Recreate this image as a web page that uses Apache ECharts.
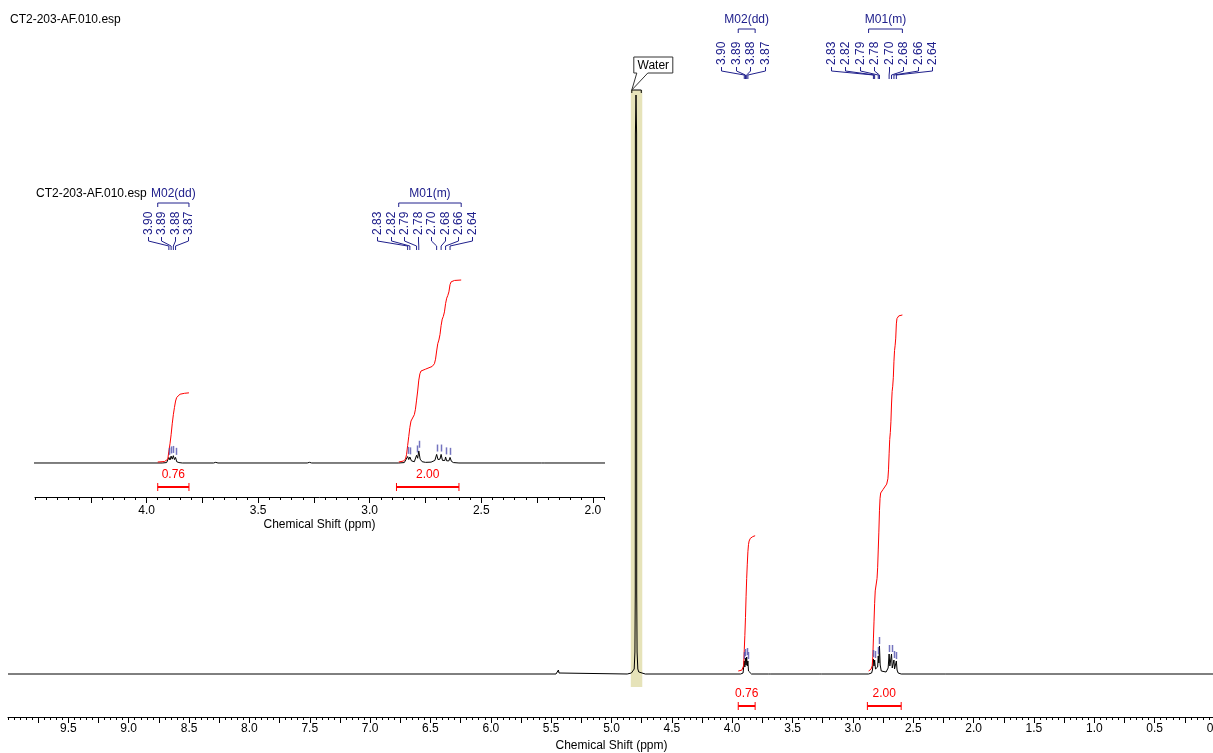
<!DOCTYPE html>
<html><head><meta charset="utf-8">
<script src="https://cdn.jsdelivr.net/npm/echarts@6.0.0/dist/echarts.min.js"></script>
<style>html,body{margin:0;padding:0;background:#fff}#c{width:1213px;height:753px}</style>
</head><body><div id="c"></div>
<script>
// ---------------- data ----------------
const TITLE = 'CT2-203-AF.010.esp';
const AXIS_NAME = 'Chemical Shift (ppm)';
const MAIN_TICK_LABELS = [0.0,0.5,1.0,1.5,2.0,2.5,3.0,3.5,4.0,4.5,5.0,5.5,6.0,6.5,7.0,7.5,8.0,8.5,9.0,9.5];
const INSET_TICK_LABELS = [2.0,2.5,3.0,3.5,4.0];
const MAIN_RANGE = [0, 10];
const INSET_RANGE = [1.95, 4.5];

// spectrum: [ppm, intensity]
const SPECTRUM = [
  [10.0,0],[5.46,0],[5.445,1],[5.44,4],[5.435,1],[5.42,0],
  [4.87,0],[4.835,1],[4.82,2],[4.812,5],[4.806,22],[4.803,80],[4.802,540],[4.797,579],[4.792,540],[4.791,80],[4.788,22],[4.782,5],[4.774,2],[4.76,1],[4.72,0],
  [3.93,0],[3.91,1],[3.905,3],[3.90,13],[3.895,7],[3.89,16],[3.885,9],[3.88,17],[3.875,8],[3.87,13],[3.865,3],[3.855,1],[3.84,0],
  [3.70,0],[3.69,1.5],[3.68,0],
  [3.28,0],[3.27,1.5],[3.26,0],
  [2.87,0],[2.845,1],[2.838,4],[2.83,15],[2.825,8],[2.82,14],[2.813,5],[2.80,3],[2.795,7],[2.79,18],[2.785,11],[2.78,28],[2.774,9],[2.765,3],[2.75,1.5],[2.725,2],[2.708,6],[2.70,20],[2.694,8],[2.69,6],[2.685,9],[2.68,20],[2.674,6],[2.668,4],[2.663,6],[2.66,14],[2.655,5],[2.65,4],[2.645,5],[2.64,13],[2.634,4],[2.625,1],[2.60,0],
  [2.23,0],[2.222,2],[2.215,0],
  [0.0,0]
];

// water
const WATER_LABEL = 'Water';
const WATER_RANGE = [4.84, 4.745];
const WATER_HEIGHT = 579;

// multiplets
const MULT_NAMES = ['M02(dd)', 'M01(m)'];
const MULT_RANGES = [[3.95, 3.81], [2.87, 2.59]];
const MULT_PEAKS = [[3.90,3.89,3.88,3.87],[2.83,2.82,2.79,2.78,2.70,2.68,2.66,2.64]];
const PEAK_HEIGHTS = [[13,16,17,13],[15,14,18,28,20,20,14,13]];

// integrals
const INTEGRAL_VALUES = [0.76, 2.00];
const INTEGRAL_RANGES = [[3.95, 3.81], [2.88, 2.60]];
const INTEGRAL_M02 = [[3.95,0],[3.92,0.005],[3.905,0.03],[3.90,0.12],[3.895,0.2],[3.89,0.3],[3.885,0.42],[3.88,0.52],[3.875,0.6],[3.87,0.67],[3.865,0.71],[3.86,0.73],[3.85,0.745],[3.83,0.755],[3.81,0.76]];
const INTEGRAL_M01 = [[2.87,0],[2.85,0.01],[2.84,0.03],[2.835,0.08],[2.83,0.18],[2.825,0.28],[2.82,0.38],[2.815,0.45],[2.80,0.52],[2.795,0.58],[2.79,0.68],[2.785,0.78],[2.78,0.9],[2.775,0.97],[2.77,1.0],[2.75,1.02],[2.72,1.05],[2.71,1.08],[2.705,1.13],[2.70,1.22],[2.695,1.3],[2.69,1.34],[2.685,1.4],[2.68,1.5],[2.675,1.57],[2.67,1.6],[2.665,1.65],[2.66,1.74],[2.655,1.8],[2.65,1.83],[2.645,1.87],[2.64,1.95],[2.635,1.98],[2.62,1.995],[2.59,2.0]];

// ---------------- style ----------------
const FS = 12;
const FONT = FS + 'px "Liberation Sans", Arial, sans-serif';
const NAVY = '#20208c';
const MARK = 'rgba(70,70,170,0.75)';
const RED = '#ff0000';

const MAIN_ANN = {nameY:20, bracketY:29, tick:4, labelBottom:67, stubY:71, joinY:75, tipY:79, spacing:14.5, shift:-3};
const INSET_ANN = {nameY:194, bracketY:203, tick:4, labelBottom:237, stubY:241, joinY:246, tipY:250, spacing:13.5, shift:-4};
const MAIN_INT = {labelY:694, barY:706};
const INSET_INT = {labelY:475, barY:487};

const majorTicks = labels => labels.flatMap(v => [v, v + 0.25]);

function annRender(cfg){
  return function(params, api){
    const i = params.dataIndex;
    const r = MULT_RANGES[i];
    const x0 = api.coord([r[0], 0])[0], x1 = api.coord([r[1], 0])[0];
    const ch = [];
    ch.push({type:'text', x:(x0+x1)/2, y:cfg.nameY, style:{text:MULT_NAMES[i], align:'center', verticalAlign:'middle', font:FONT, fill:NAVY}});
    ch.push({type:'polyline', shape:{points:[[x0,cfg.bracketY+cfg.tick],[x0,cfg.bracketY],[x1,cfg.bracketY],[x1,cfg.bracketY+cfg.tick]]}, style:{stroke:NAVY, lineWidth:1, fill:null}});
    const peaks = MULT_PEAKS[i];
    const px = peaks.map(p => api.coord([p, 0])[0]);
    const mean = px.reduce((a,b)=>a+b,0)/px.length + cfg.shift;
    peaks.forEach((p,k) => {
      const lx = Math.round(mean + (k-(peaks.length-1)/2)*cfg.spacing) + 0.5;
      ch.push({type:'text', x:lx, y:cfg.labelBottom - 2, rotation:Math.PI/2, style:{text:p.toFixed(2), align:'left', verticalAlign:'middle', font:FONT, fill:NAVY}});
      ch.push({type:'polyline', shape:{points:[[lx,cfg.labelBottom],[lx,cfg.stubY],[px[k],cfg.joinY],[px[k],cfg.tipY]]}, style:{stroke:NAVY, lineWidth:1, fill:null}});
    });
    return {type:'group', children:ch};
  };
}

function intRender(cfg){
  return function(params, api){
    const i = params.dataIndex;
    const r = INTEGRAL_RANGES[i];
    const x0 = api.coord([r[0], 0])[0], x1 = api.coord([r[1], 0])[0];
    return {type:'group', children:[
      {type:'text', x:(x0+x1)/2, y:cfg.labelY, style:{text:INTEGRAL_VALUES[i].toFixed(2), align:'center', verticalAlign:'middle', font:FONT, fill:RED}},
      {type:'line', shape:{x1:x0, y1:cfg.barY, x2:x1, y2:cfg.barY}, style:{stroke:RED, lineWidth:2}},
      {type:'line', shape:{x1:x0, y1:cfg.barY-4, x2:x0, y2:cfg.barY+4}, style:{stroke:RED, lineWidth:1}},
      {type:'line', shape:{x1:x1, y1:cfg.barY-4, x2:x1, y2:cfg.barY+4}, style:{stroke:RED, lineWidth:1}}
    ]};
  };
}

function markRender(params, api){
  const p = api.coord([api.value(0), api.value(1)]);
  const x = Math.round(p[0]) + 0.5;
  return {type:'line', shape:{x1:x, y1:p[1]-2, x2:x, y2:p[1]-9}, style:{stroke:MARK, lineWidth:1.5}};
}

function waterRender(params, api){
  const a = api.coord([WATER_RANGE[0], WATER_HEIGHT]);
  const b = api.coord([WATER_RANGE[1], 0]);
  const top = a[1] - 5, bottom = b[1] + 13;
  const bx = a[0] + 3, by = top - 33, bw = 39, bh = 16;
  return {type:'group', children:[
    {type:'rect', shape:{x:a[0], y:top, width:b[0]-a[0], height:bottom-top}, style:{fill:'#e6e3b9'}},
    {type:'polyline', shape:{points:[[a[0]+1,top+3],[a[0]+1,top],[b[0]-1,top],[b[0]-1,top+3]]}, style:{stroke:'#000', lineWidth:1, fill:null}},
    {type:'polygon', shape:{points:[[bx,by],[bx+bw,by],[bx+bw,by+bh],[bx+14,by+bh],[a[0]+1,top],[bx+3,by+bh],[bx,by+bh]]}, style:{fill:'#fff', stroke:'#333', lineWidth:1}},
    {type:'text', x:bx+bw/2, y:by+bh/2+0.5, style:{text:WATER_LABEL, align:'center', verticalAlign:'middle', font:FONT, fill:'#000'}}
  ]};
}

const peakMarks = MULT_PEAKS.flatMap((g,i) => g.map((p,k) => [p, PEAK_HEIGHTS[i][k]]));

function xAxisPair(gridIndex, range, labels, margin, nameGap){
  return [
    {gridIndex, type:'value', inverse:true, min:range[0], max:range[1], position:'bottom',
     axisLine:{onZero:false, lineStyle:{color:'#000', width:1}},
     axisTick:{customValues:majorTicks(labels).filter(v=>v>=range[0]&&v<=range[1]), length:6, lineStyle:{color:'#000'}},
     axisLabel:{customValues:labels, formatter:v=>v.toFixed(1), color:'#000', fontSize:FS, fontFamily:'Liberation Sans', margin:margin},
     splitLine:{show:false},
     name:AXIS_NAME, nameLocation:'middle', nameGap:nameGap, nameTextStyle:{color:'#000', fontSize:FS, fontFamily:'Liberation Sans'}},
    {gridIndex, type:'value', inverse:true, min:range[0], max:range[1], interval:0.05, position:'bottom',
     axisLine:{show:false, onZero:false}, axisTick:{length:3, lineStyle:{color:'#000'}},
     axisLabel:{show:false}, splitLine:{show:false}}
  ];
}

const chart = echarts.init(document.getElementById('c'), null, {renderer:'canvas'});
chart.setOption({
  animation:false,
  backgroundColor:'#fff',
  title:[
    {text:TITLE, left:5, top:9, textStyle:{fontSize:FS, fontWeight:'normal', color:'#000', fontFamily:'Liberation Sans'}},
    {text:TITLE, left:31, top:183, textStyle:{fontSize:FS, fontWeight:'normal', color:'#000', fontFamily:'Liberation Sans'}}
  ],
  grid:[
    {left:8, right:-2, top:80, bottom:36, containLabel:false, outerBoundsMode:'none'},
    {left:35, right:609, top:250, bottom:256, containLabel:false, outerBoundsMode:'none'}
  ],
  xAxis:[...xAxisPair(0, MAIN_RANGE, MAIN_TICK_LABELS, 6, 21), ...xAxisPair(1, INSET_RANGE, INSET_TICK_LABELS, 8, 22)],
  yAxis:[
    {gridIndex:0, type:'value', show:false, min:-43, max:594},
    {gridIndex:0, type:'value', show:false, min:-0.2584, max:3.3202},
    {gridIndex:1, type:'value', show:false, min:-79.07, max:495.3},
    {gridIndex:1, type:'value', show:false, min:-0.3846, max:2.3297}
  ],
  series:[
    {type:'custom', xAxisIndex:0, yAxisIndex:0, renderItem:waterRender, data:[[WATER_RANGE[0], WATER_HEIGHT]], z:1, silent:true},
    {type:'line', xAxisIndex:0, yAxisIndex:0, data:SPECTRUM, showSymbol:false, lineStyle:{color:'#000', width:1}, z:3, silent:true},
    {type:'line', xAxisIndex:0, yAxisIndex:1, data:INTEGRAL_M02, showSymbol:false, lineStyle:{color:RED, width:1}, z:4, silent:true},
    {type:'line', xAxisIndex:0, yAxisIndex:1, data:INTEGRAL_M01, showSymbol:false, lineStyle:{color:RED, width:1}, z:4, silent:true},
    {type:'custom', xAxisIndex:0, yAxisIndex:0, renderItem:markRender, data:peakMarks, z:5, silent:true},
    {type:'custom', xAxisIndex:0, yAxisIndex:0, renderItem:annRender(MAIN_ANN), data:MULT_RANGES.map(r=>[r[0],0]), z:5, silent:true},
    {type:'custom', xAxisIndex:0, yAxisIndex:0, renderItem:intRender(MAIN_INT), data:INTEGRAL_RANGES.map(r=>[r[0],0]), z:5, silent:true},

    {type:'line', xAxisIndex:2, yAxisIndex:2, data:SPECTRUM, showSymbol:false, lineStyle:{color:'#000', width:1}, z:3, silent:true, clip:true},
    {type:'line', xAxisIndex:2, yAxisIndex:3, data:INTEGRAL_M02, showSymbol:false, lineStyle:{color:RED, width:1}, z:4, silent:true},
    {type:'line', xAxisIndex:2, yAxisIndex:3, data:INTEGRAL_M01, showSymbol:false, lineStyle:{color:RED, width:1}, z:4, silent:true},
    {type:'custom', xAxisIndex:2, yAxisIndex:2, renderItem:markRender, data:peakMarks.map(m=>[m[0], m[1]*1.1]), z:5, silent:true},
    {type:'custom', xAxisIndex:2, yAxisIndex:2, renderItem:annRender(INSET_ANN), data:MULT_RANGES.map(r=>[r[0],0]), z:5, silent:true},
    {type:'custom', xAxisIndex:2, yAxisIndex:2, renderItem:intRender(INSET_INT), data:INTEGRAL_RANGES.map(r=>[r[0],0]), z:5, silent:true}
  ]
});
</script></body></html>
